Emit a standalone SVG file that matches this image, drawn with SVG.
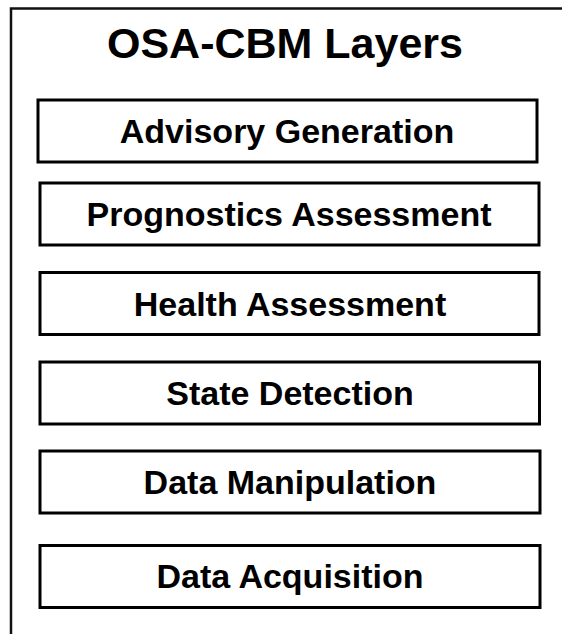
<svg xmlns="http://www.w3.org/2000/svg" width="562" height="634" viewBox="0 0 562 634">
  <style>
    .frame { fill: none; stroke: #111; stroke-width: 2.5; }
    .layer rect { fill: #fff; stroke: #000; stroke-width: 3; }
    .layer text, .title { font-family: "Liberation Sans", Arial, sans-serif; font-weight: bold; fill: #000; text-anchor: middle; }
    .layer text { font-size: 34px; }
    .title { font-size: 43px; }
  </style>
  <rect width="562" height="634" fill="#fff"/>
  <!-- outer frame: top and left edges -->
  <path class="frame" d="M11 634 V8.5 H562"/>
  <text class="title" x="285" y="58">OSA-CBM Layers</text>
  <g id="connectors"/>
  <g id="advisory" class="layer">
    <rect x="38" y="100" width="499" height="62"/>
    <text x="287" y="143">Advisory Generation</text>
  </g>
  <g id="prognostics" class="layer">
    <rect x="40" y="183" width="499" height="62"/>
    <text x="289" y="226">Prognostics Assessment</text>
  </g>
  <g id="health" class="layer">
    <rect x="40" y="272.5" width="499" height="62"/>
    <text x="290" y="316">Health Assessment</text>
  </g>
  <g id="state" class="layer">
    <rect x="40" y="362" width="499.5" height="62"/>
    <text x="290" y="405">State Detection</text>
  </g>
  <g id="manipulation" class="layer">
    <rect x="40" y="451" width="500" height="62"/>
    <text x="290" y="494">Data Manipulation</text>
  </g>
  <g id="acquisition" class="layer">
    <rect x="40" y="545.5" width="500" height="62"/>
    <text x="290" y="588">Data Acquisition</text>
  </g>
</svg>
